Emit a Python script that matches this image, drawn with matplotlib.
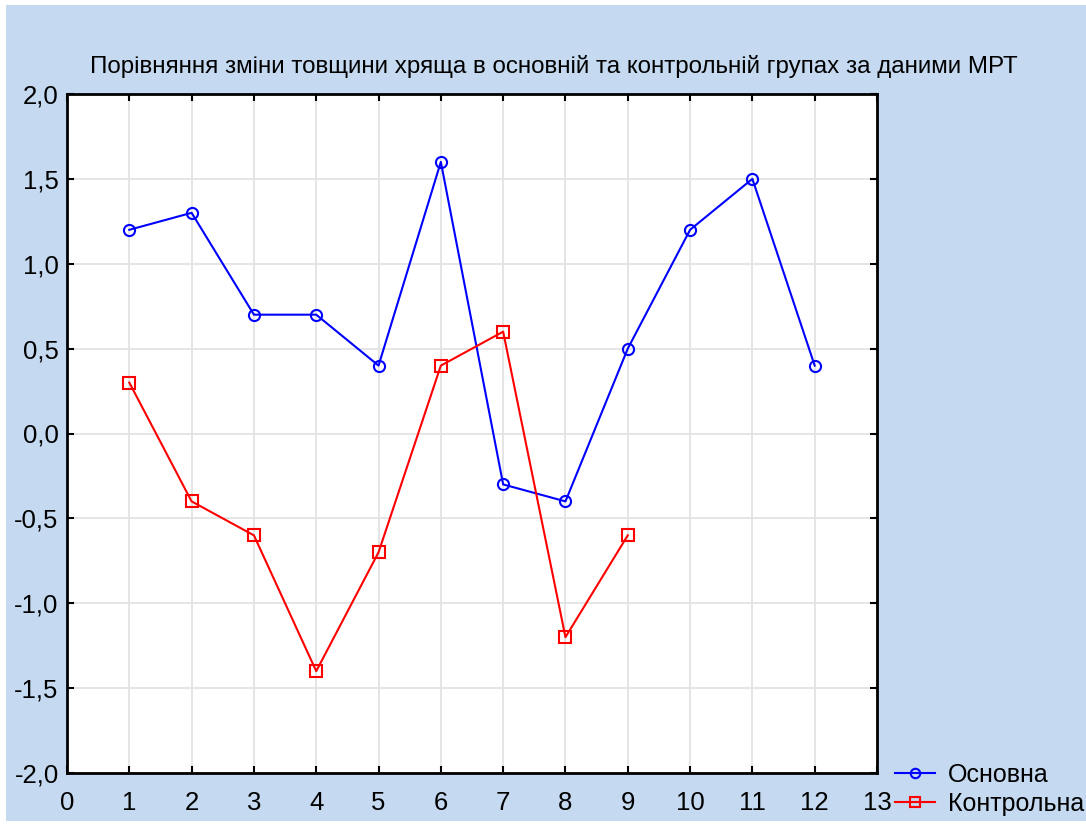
import matplotlib.pyplot as plt
import numpy as np
from matplotlib.patches import Rectangle
from matplotlib.ticker import FuncFormatter

plt.rcParams['font.family'] = ['Liberation Sans', 'DejaVu Sans']

x_main = [1, 2, 3, 4, 5, 6, 7, 8, 9, 10, 11, 12]
main_vals = [1.2, 1.3, 0.7, 0.7, 0.4, 1.6, -0.3, -0.4, 0.5, 1.2, 1.5, 0.4]
x_ctrl = [1, 2, 3, 4, 5, 6, 7, 8, 9]
ctrl_vals = [0.3, -0.4, -0.6, -1.4, -0.7, 0.4, 0.6, -1.2, -0.6]
title = 'Порівняння зміни товщини хряща в основній та контрольній групах за даними МРТ'

W, H = 1086, 825
fig = plt.figure(figsize=(W / 100, H / 100), dpi=100, facecolor='white')
bg = Rectangle((6 / W, 4 / H), 1 - 6 / W, 1 - 9 / H, transform=fig.transFigure,
               facecolor='#C5D9F0', edgecolor='none', zorder=-10)
fig.patches.append(bg)

ax = fig.add_axes([67 / W, (H - 773) / H, (877 - 67) / W, (773 - 94) / H])
ax.set_facecolor('white')

ax.plot(x_main, main_vals, color='#0000FF', lw=1.5, marker='o', ms=8,
        mfc='none', mec='#0000FF', mew=1.5, label='Основна', zorder=3)
ax.plot(x_ctrl, ctrl_vals, color='#FF0000', lw=1.5, marker='s', ms=8,
        mfc='none', mec='#FF0000', mew=1.5, label='Контрольна', zorder=3)

ax.set_xlim(0, 13)
ax.set_ylim(-2, 2)
ax.set_xticks(np.arange(0, 14, 1))
ax.set_yticks(np.arange(-2, 2.01, 0.5))
ax.yaxis.set_major_formatter(FuncFormatter(lambda v, p: f'{v:.1f}'.replace('.', ',')))
ax.grid(True, color='#E3E3E3', lw=1.3, zorder=0)
ax.tick_params(direction='in', top=True, right=True, length=5, width=1.5,
               labelsize=18.5, colors='black')
ax.tick_params(axis='x', pad=13)
ax.tick_params(axis='y', pad=6)
for s in ax.spines.values():
    s.set_linewidth(2)
    s.set_color('black')

fig.text(0.51, 1 - 66 / H, title, ha='center', va='center', fontsize=17.4)

fig.legend(loc='lower left', bbox_to_anchor=(895 / W, 9 / H), frameon=False,
           fontsize=18, handlelength=1.6, handletextpad=0.5, labelspacing=0.2,
           borderpad=0, borderaxespad=0, markerscale=0.85)

fig.savefig('out.png', dpi=100, facecolor=fig.get_facecolor())
